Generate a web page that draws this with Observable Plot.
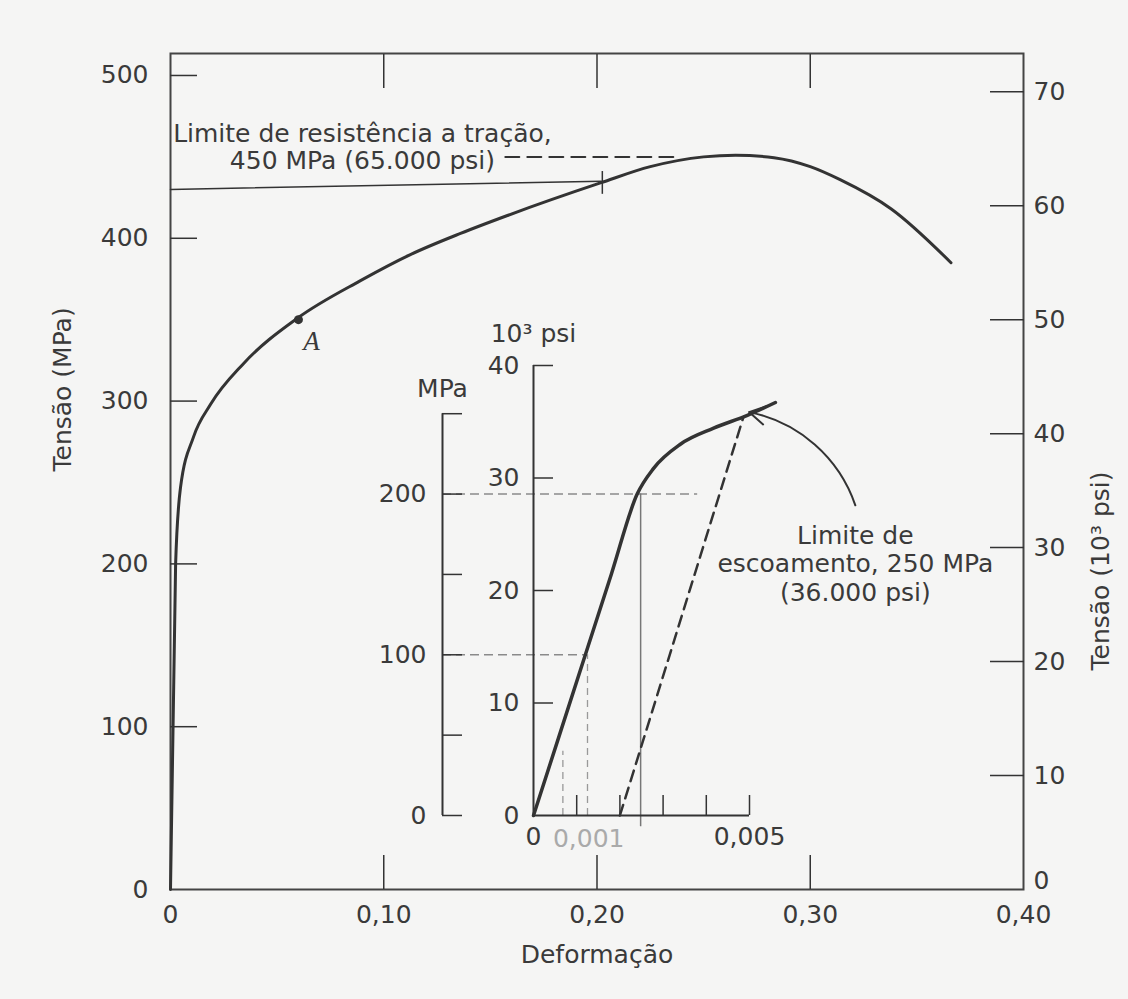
<!DOCTYPE html>
<html><head><meta charset="utf-8">
<script src="https://cdn.jsdelivr.net/npm/d3@7"></script>
<script src="https://cdn.jsdelivr.net/npm/@observablehq/plot@0.6"></script>
<style>
html,body{margin:0;padding:0;background:#f5f5f4;}
#wrap{position:relative;width:1128px;height:999px;overflow:hidden;}
#main,#inset{position:absolute;}
#main{left:0;top:0;}
#inset{left:360px;top:320px;}
svg{overflow:visible;}
</style></head><body><div id="wrap"><div id="main"></div><div id="inset"></div></div>
<script>
// ---- data ----
const mainStrain = [0, 0.0024, 0.0047, 0.0108, 0.0188, 0.0342, 0.0596, 0.0891, 0.1125, 0.136, 0.158, 0.2016, 0.225, 0.25, 0.265, 0.283, 0.30, 0.314, 0.338, 0.366];
const mainStress = [0, 200, 247, 278, 298, 323, 351, 374, 390, 403, 414, 434, 444, 450, 451, 449.5, 444, 436, 418, 385];
const insetStrain = [0, 0.0012, 0.0018, 0.0024, 0.00278, 0.0034, 0.00417, 0.00495, 0.0056];
const insetStress = [0, 100, 150, 200, 216, 231, 241, 249, 257];
const offsetStrain = [0.002, 0.00486];
const offsetStress = [0, 248];

const mpaTicks = [0, 100, 200, 300, 400, 500];
const mpaTickMarks = [100, 200, 300, 400, 500];
const psiLabels = [10, 20, 30, 40, 50, 60, 70];
const psiZero = [0];
const psiTickMarks = [10, 20, 30, 40, 50, 60, 70];
const strainLabels = [0, 0.1, 0.2, 0.3, 0.4];
const strainTickMarks = [0.1, 0.2, 0.3];

const insetMpaTicks = [0, 50, 100, 150, 200, 250];
const insetMpaLabels = [0, 100, 200];
const insetPsiTicks = [10, 20, 30, 40];
const insetPsiLabels = [0, 10, 20, 30, 40];
const insetStrainTicks = [0.001, 0.002, 0.003, 0.004, 0.005];
const insetStrainLabels = [0, 0.005];
const insetFaintLabel = [0.001];

const MPA_PER_KSI = 7.0;          // ratio of the two stress scales as drawn
const pointA = [{strain: 0.060, stress: 350}];
const utsLine = [{strain: 0, stress: 430}, {strain: 0.202, stress: 435}];
const utsDash = [{strain: 0.157, stress: 450}, {strain: 0.239, stress: 450}];
const utsTick = [{strain: 0.2025, lo: 427, hi: 441}];
const utsLabel = [{strain: 0.090, stress: 456, text: "Limite de resistência a tração,\n450 MPa (65.000 psi)"}];
const yieldLabel = [{strain: 0.00745, stress: 157, text: "Limite de\nescoamento, 250 MPa\n(36.000 psi)"}];
const yieldArrow = [{x1: 0.00745, y1: 193, x2: 0.00499, y2: 251}];
const refH = [{stress: 200, to: 0.0038}, {stress: 100, to: 0.00125}];
const refV = [{strain: 0.00125, lo: 0, hi: 100}, {strain: 0.00068, lo: 0, hi: 40}];
const refSolidV = [{strain: 0.00248, lo: -7, hi: 200}];

const INK = "#333";
const TXT = "#3a3a3a";
const FONT = "DejaVu Sans";
const comma2 = d => d === 0 ? "0" : d3.format(".2f")(d).replace(".", ",");
const comma3 = d => d === 0 ? "0" : d3.format(".3f")(d).replace(".", ",");

const mainData = mainStrain.map((s, i) => ({strain: s, stress: mainStress[i]}));
const insetData = insetStrain.map((s, i) => ({strain: s, stress: insetStress[i]}));
const offsetData = offsetStrain.map((s, i) => ({strain: s, stress: offsetStress[i]}));

const main = Plot.plot({
  width: 1128, height: 999,
  marginLeft: 170, marginRight: 105, marginTop: 53, marginBottom: 110,
  style: {fontFamily: FONT, fontSize: "25px", color: TXT, background: "transparent", overflow: "visible"},
  x: {domain: [0, 0.4]},
  y: {domain: [0, 513.5]},
  marks: [
    Plot.frame({stroke: "#444", strokeWidth: 2}),
    // left axis (MPa)
    Plot.axisY(mpaTickMarks, {anchor: "left", tickSize: -27, tickFormat: () => "", stroke: INK, strokeWidth: 1.5, label: null}),
    Plot.axisY(mpaTicks, {anchor: "left", tickSize: 0, tickPadding: 22, label: null}),
    // right axis (10^3 psi)
    Plot.axisY(psiTickMarks.map(k => k * MPA_PER_KSI), {anchor: "right", tickSize: -34, tickFormat: () => "", stroke: INK, strokeWidth: 1.5, label: null}),
    Plot.axisY(psiLabels.map(k => k * MPA_PER_KSI), {anchor: "right", tickSize: 0, tickPadding: 10, tickFormat: d => String(Math.round(d / MPA_PER_KSI)), label: null}),
    Plot.text(psiZero, {x: 0.4, y: d => d * MPA_PER_KSI, text: d => String(d), dx: 10, dy: -9, textAnchor: "start", fill: TXT}),
    // x axis
    Plot.axisX(strainTickMarks, {anchor: "bottom", tickSize: -34, tickFormat: () => "", stroke: INK, strokeWidth: 1.5, label: null}),
    Plot.axisX(strainTickMarks, {anchor: "top", tickSize: -34, tickFormat: () => "", stroke: INK, strokeWidth: 1.5, label: null}),
    Plot.axisX(strainLabels, {anchor: "bottom", tickSize: 0, tickPadding: 16, tickFormat: comma2, label: null}),
    // axis titles
    Plot.text(["Tensão (MPa)"], {frameAnchor: "left", dx: -108, rotate: -90, fill: TXT}),
    Plot.text(["Tensão (10³ psi)"], {frameAnchor: "right", dx: 77, rotate: -90, fill: TXT}),
    Plot.text(["Deformação"], {frameAnchor: "bottom", dy: 73, fill: TXT}),
    // ultimate tensile strength annotation
    Plot.line(utsLine, {x: "strain", y: "stress", stroke: INK, strokeWidth: 1.5}),
    Plot.ruleX(utsTick, {x: "strain", y1: "lo", y2: "hi", stroke: INK, strokeWidth: 1.5}),
    Plot.line(utsDash, {x: "strain", y: "stress", stroke: INK, strokeWidth: 2, strokeDasharray: "14,8"}),
    Plot.text(utsLabel, {x: "strain", y: "stress", text: "text", lineHeight: 1.05, fill: TXT}),
    // curve
    Plot.line(mainData, {x: "strain", y: "stress", curve: "monotone-x", stroke: INK, strokeWidth: 3}),
    Plot.dot(pointA, {x: "strain", y: "stress", r: 4.5, fill: INK}),
    Plot.text(pointA, {x: "strain", y: "stress", text: () => "A", dx: 13, dy: 22, fontFamily: "Liberation Serif", fontStyle: "italic", fontSize: 27, fill: TXT})
  ]
});
document.getElementById("main").append(main);

const inset = Plot.plot({
  width: 650, height: 540,
  marginLeft: 173, marginRight: 217.8, marginTop: 45, marginBottom: 45,
  style: {fontFamily: FONT, fontSize: "25px", color: TXT, background: "transparent", overflow: "visible"},
  x: {domain: [0, 0.006]},
  y: {domain: [0, 280]},
  marks: [
    // reference lines
    Plot.ruleY(refH, {y: "stress", x1: 0, x2: "to", insetLeft: -91, stroke: "#8a8a8a", strokeWidth: 1.5, strokeDasharray: "9,5"}),
    Plot.ruleX(refV, {x: "strain", y1: "lo", y2: "hi", stroke: "#999", strokeWidth: 1.3, strokeDasharray: "7,5"}),
    Plot.ruleX(refSolidV, {x: "strain", y1: "lo", y2: "hi", stroke: "#777", strokeWidth: 1.5}),
    // MPa axis (offset to the left)
    Plot.ruleX([0], {y1: 0, y2: 250, dx: -91, stroke: INK, strokeWidth: 2}),
    Plot.axisY(insetMpaTicks, {anchor: "left", dx: -91, tickSize: -20, tickFormat: () => "", stroke: INK, strokeWidth: 1.5, label: null}),
    Plot.axisY(insetMpaLabels, {anchor: "left", dx: -91, tickSize: 0, tickPadding: 16, label: null}),
    Plot.text(["MPa"], {x: 0, y: 250, dx: -91, dy: -25, fill: TXT}),
    // psi axis
    Plot.ruleX([0], {y1: 0, y2: 40 * MPA_PER_KSI, stroke: INK, strokeWidth: 2}),
    Plot.axisY(insetPsiTicks.map(k => k * MPA_PER_KSI), {anchor: "left", tickSize: -20, tickFormat: () => "", stroke: INK, strokeWidth: 1.5, label: null}),
    Plot.axisY(insetPsiLabels.map(k => k * MPA_PER_KSI), {anchor: "left", tickSize: 0, tickPadding: 14, tickFormat: d => String(Math.round(d / MPA_PER_KSI)), label: null}),
    Plot.text(["10³ psi"], {x: 0, y: 40 * MPA_PER_KSI, dy: -32, fill: TXT}),
    // strain axis
    Plot.ruleY([0], {x1: 0, x2: 0.005, stroke: INK, strokeWidth: 2}),
    Plot.axisX(insetStrainTicks, {anchor: "bottom", tickSize: -20, tickFormat: () => "", stroke: INK, strokeWidth: 1.5, label: null}),
    Plot.axisX(insetStrainLabels, {anchor: "bottom", tickSize: 0, tickPadding: 12, tickFormat: comma3, label: null}),
    Plot.text(insetFaintLabel, {x: d => d, y: 0, dx: 12, dy: 23, text: comma3, fill: "#aaa"}),
    // curves
    Plot.line(offsetData, {x: "strain", y: "stress", stroke: INK, strokeWidth: 2.5, strokeDasharray: "11,7"}),
    Plot.line(insetData, {x: "strain", y: "stress", curve: "monotone-x", stroke: INK, strokeWidth: 3.5}),
    // yield annotation
    Plot.arrow(yieldArrow, {x1: "x1", y1: "y1", x2: "x2", y2: "y2", bend: -30, stroke: INK, strokeWidth: 2, headLength: 14}),
    Plot.text(yieldLabel, {x: "strain", y: "stress", text: "text", lineHeight: 1.15, fill: TXT})
  ]
});
document.getElementById("inset").append(inset);
</script></body></html>
